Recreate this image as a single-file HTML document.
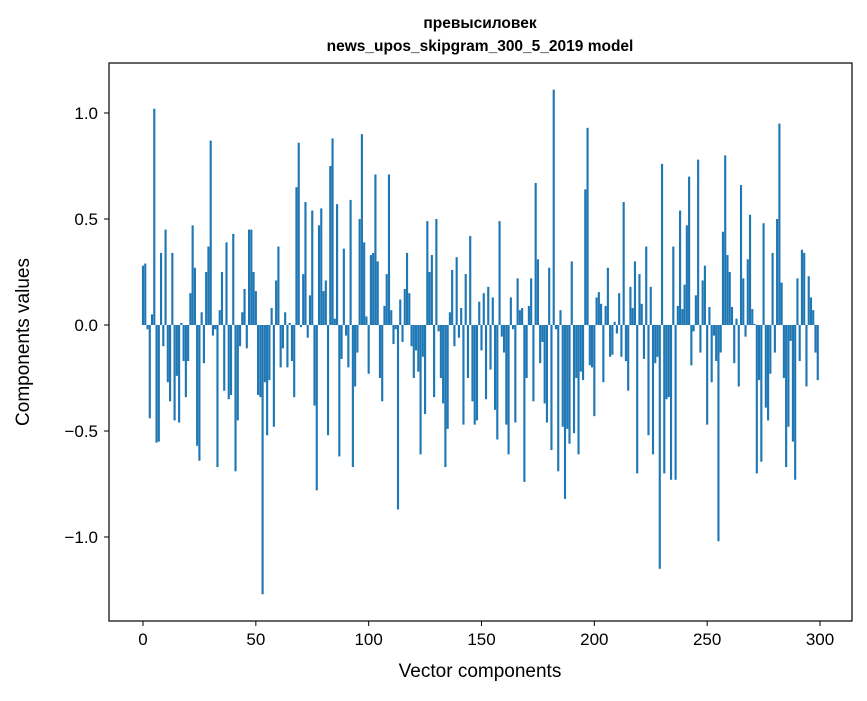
<!DOCTYPE html>
<html><head><meta charset="utf-8"><style>
body{margin:0;background:#fff;font-family:"Liberation Sans","DejaVu Sans",sans-serif;}
svg text{font-family:"Liberation Sans","DejaVu Sans",sans-serif;}
</style></head><body>
<svg id="chart" width="867" height="696" xmlns="http://www.w3.org/2000/svg">
<rect width="867" height="696" fill="#fff"/>
<text x="480" y="28" text-anchor="middle" font-size="15.5" font-weight="bold">превысиловек</text>
<text x="480" y="51" text-anchor="middle" font-size="15.5" font-weight="bold">news_upos_skipgram_300_5_2019 model</text>
<g id="bars"></g>
<g id="xticks"></g>
<g id="yticks"></g>
<rect x="109" y="63" width="743" height="558" fill="none" stroke="#000" stroke-width="1.2"/>
<text x="480" y="677" text-anchor="middle" font-size="19">Vector components</text>
<text transform="translate(29,342) rotate(-90)" text-anchor="middle" font-size="19">Components values</text>
</svg>
<script>
const values = [0.28,0.29,-0.02,-0.44,0.05,1.02,-0.555,-0.55,0.34,-0.1,
0.45,-0.27,-0.36,0.34,-0.45,-0.24,-0.46,0.01,-0.17,-0.34,
-0.17,0.15,0.47,0.27,-0.57,-0.64,0.06,-0.18,0.25,0.37,
0.87,-0.05,-0.02,-0.67,0.07,0.25,-0.31,0.39,-0.35,-0.33,
0.43,-0.69,-0.45,-0.1,0.06,0.17,-0.11,0.45,0.45,0.25,
0.16,-0.33,-0.34,-1.27,-0.27,-0.52,-0.26,0.08,-0.48,0.21,
0.37,-0.2,-0.11,0.06,-0.2,0.01,-0.17,-0.34,0.65,0.86,
-0.01,0.24,0.58,-0.06,0.14,0.54,-0.38,-0.78,0.47,0.55,
0.16,0.21,-0.52,0.75,0.88,0.03,0.57,-0.62,-0.16,0.36,
-0.05,-0.2,0.59,-0.67,-0.29,-0.13,0.5,0.9,0.39,0.04,
-0.23,0.33,0.34,0.71,0.3,-0.25,-0.36,0.09,0.24,0.71,
0.07,-0.09,-0.02,-0.87,0.12,-0.08,0.17,0.34,0.15,-0.1,
-0.25,-0.12,-0.22,-0.61,-0.15,-0.42,0.49,0.25,0.33,-0.34,
0.5,-0.03,-0.25,-0.37,-0.67,-0.49,0.06,0.26,-0.1,0.32,
-0.06,0.08,-0.47,0.24,-0.25,0.42,-0.36,-0.47,-0.45,0.11,
-0.12,0.15,-0.35,0.18,-0.21,0.13,-0.4,-0.54,0.49,-0.055,
-0.13,-0.47,-0.61,0.13,-0.02,-0.46,0.22,0.07,0.08,-0.74,
-0.25,0.09,0.22,-0.36,0.67,0.31,-0.18,-0.08,-0.37,-0.46,
0.27,-0.59,1.11,-0.02,-0.69,0.07,-0.48,-0.82,-0.49,-0.56,
0.3,-0.51,-0.25,-0.61,-0.22,-0.26,0.64,0.93,-0.19,-0.2,
-0.43,0.13,0.155,0.1,-0.27,0.09,0.27,-0.15,-0.14,0.015,
-0.04,0.15,-0.15,0.58,-0.17,-0.31,0.18,0.08,0.3,-0.7,
0.24,0.1,-0.16,0.37,-0.52,0.18,-0.61,-0.18,-0.15,-1.15,
0.76,-0.7,-0.35,-0.34,-0.73,0.37,-0.73,0.09,0.54,0.075,
0.19,0.47,0.7,-0.19,-0.03,0.14,0.78,-0.13,0.21,0.28,
-0.47,0.085,-0.27,-0.05,-0.17,-1.02,-0.13,0.44,0.8,0.33,
0.25,0.085,-0.18,0.03,-0.29,0.66,0.22,-0.055,0.31,0.52,
0.075,0.005,-0.7,-0.26,-0.645,0.48,-0.39,-0.45,-0.23,0.34,
-0.13,0.5,0.95,0.2,-0.25,-0.67,-0.48,-0.075,-0.55,-0.73,
0.22,-0.17,0.355,0.34,-0.29,0.23,0.13,0.07,-0.13,-0.26];
const xTicks = [0,50,100,150,200,250,300];
const yTicks = [-1.0,-0.5,0.0,0.5,1.0];
const yTickLabels = ["\u22121.0","\u22120.5","0.0","0.5","1.0"];

const NS="http://www.w3.org/2000/svg";
const xScale = v => 143 + (v)*(677/300);
const yScale = v => 325 - v*212;
const bw = 0.95*677/300;
const gb = document.getElementById('bars');
values.forEach((v,i)=>{
  const r=document.createElementNS(NS,'rect');
  const y0=yScale(0), y1=yScale(v);
  r.setAttribute('x',xScale(i)-bw/2);
  r.setAttribute('y',Math.min(y0,y1));
  r.setAttribute('width',bw);
  r.setAttribute('height',Math.max(Math.abs(y1-y0),0.3));
  r.setAttribute('fill','#1f77b4');
  
  
  gb.appendChild(r);
});
const gx=document.getElementById('xticks');
xTicks.forEach(t=>{
  const x=xScale(t);
  const l=document.createElementNS(NS,'line');
  l.setAttribute('x1',x);l.setAttribute('x2',x);l.setAttribute('y1',621);l.setAttribute('y2',626);
  l.setAttribute('stroke','#000');
  
  
  gx.appendChild(l);
  const tx=document.createElementNS(NS,'text');
  tx.setAttribute('x',x);tx.setAttribute('y',645);tx.setAttribute('text-anchor','middle');tx.setAttribute('font-size','17');
  tx.textContent=t;
  
  
  gx.appendChild(tx);
});
const gy=document.getElementById('yticks');
yTicks.forEach((t,i)=>{
  const y=yScale(t);
  const l=document.createElementNS(NS,'line');
  l.setAttribute('x1',104);l.setAttribute('x2',109);l.setAttribute('y1',y);l.setAttribute('y2',y);
  l.setAttribute('stroke','#000');
  
  
  gy.appendChild(l);
  const tx=document.createElementNS(NS,'text');
  tx.setAttribute('x',98);tx.setAttribute('y',y+6);tx.setAttribute('text-anchor','end');tx.setAttribute('font-size','17');
  tx.textContent=yTickLabels[i];
  
  
  gy.appendChild(tx);
});
</script>
</body></html>
